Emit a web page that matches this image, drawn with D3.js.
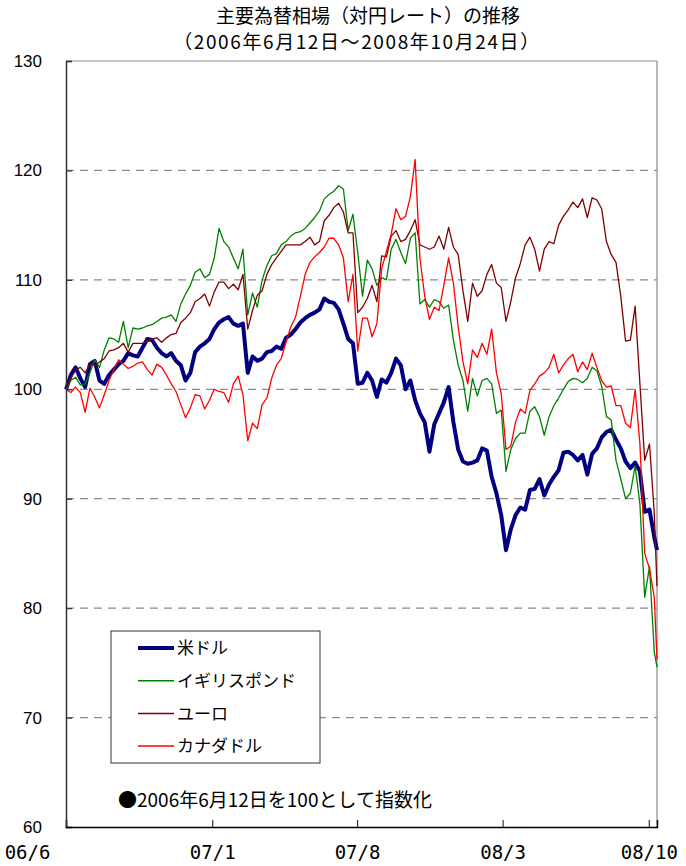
<!DOCTYPE html>
<html>
<head>
<meta charset="utf-8">
<script src="https://cdn.jsdelivr.net/npm/d3@7"></script>
<style>
  body { margin: 0; background: #fff; }
  svg { display: block; }
  .jp { font-family: "Noto Sans CJK JP", sans-serif; }
</style>
</head>
<body>
<svg id="chart" width="686" height="866"></svg>
<script>
// weekly closes, indexed to 2006/6/12 = 100 (last point is 2008/10/24)
const usd = [100, 101.3, 102, 101, 100.2, 102.3, 102.6, 100.8, 100.5, 101.3,
  101.8, 102.3, 102.6, 103.3, 103.1, 103, 103.8, 104.6, 104.5, 103.8,
  103.3, 103, 103.3, 102.6, 102.2, 100.8, 101.5, 103.4, 103.9, 104.2,
  104.6, 105.5, 106.1, 106.4, 106.6, 106, 105.8, 106, 101.5, 103,
  102.6, 102.8, 103.4, 103.5, 103.9, 103.7, 104.7, 105, 105.5, 106.1,
  106.5, 106.8, 107, 107.3, 108.3, 108, 107.9, 107.3, 106, 104.6,
  104.2, 100.5, 100.6, 101.5, 100.8, 99.3, 100.9, 100.6, 101.5, 102.8,
  102.2, 100, 100.8, 99, 97.8, 97, 94.3, 96.8, 97.8, 98.8,
  100.2, 97, 94.5, 93.4, 93.2, 93.3, 93.5, 94.6, 94.4, 92,
  90.5, 88.5, 85.3, 87.2, 88.5, 89.2, 89, 90.8, 90.9, 91.8,
  90.3, 91.3, 92, 92.6, 94.2, 94.3, 94, 93.5, 94, 92.2,
  94.1, 94.6, 95.6, 96.1, 96.3, 95.4, 94.6, 93.4, 92.8, 93.3,
  92.5, 88.8, 89, 86.5, 85.3];

const gbp = [100, 100.8, 101.1, 100.4, 100.5, 101.5, 102.7, 102, 103.6, 104.7,
  104.6, 104.3, 106.2, 103.8, 105.6, 105.5, 105.6, 105.8, 105.9, 106.2,
  106.5, 106.6, 106.8, 106.2, 107.8, 108.7, 109.5, 110.7, 111, 110.2,
  110.5, 112, 114.7, 113.5, 113, 112, 111, 112.8, 106.8, 108.8,
  107.5, 110, 111.3, 112.2, 112.4, 113.2, 113.5, 114, 114.3, 114.4,
  114.7, 115.2, 115.7, 116.3, 117.4, 117.8, 118.1, 118.6, 118.3, 114.5,
  116, 112.5, 108.5, 111.8, 111, 109.5, 110.2, 110, 112.8, 113.7,
  112.5, 111.5, 113.8, 114.3, 107.8, 108.2, 107.5, 108.2, 108, 107.4,
  107.7, 104.5, 102.2, 100.8, 98, 101, 99.4, 100.8, 101, 100.5,
  97.8, 98.1, 92.5, 94.5, 95.5, 96, 96, 98, 98.4, 97.5,
  95.8, 97.5, 98.5, 99.2, 100, 100.7, 101, 100.9, 100.6, 101,
  102, 101.7, 100.3, 97.5, 97.2, 93.5, 91.8, 90, 90.5, 93,
  89.5, 81, 83.8, 76, 74.6];

const eur = [100, 101, 101.8, 102, 101.5, 102.3, 102.2, 102.5, 102.8, 103.5,
  103.6, 103.8, 104.2, 103.4, 104.2, 104.2, 104.2, 104.4, 104.6, 104.7,
  104.3, 104.7, 105, 105.1, 106.1, 106.5, 107, 108, 108.3, 108.7,
  107.6, 108.9, 109.8, 109.8, 109.2, 109.6, 109.1, 110.5, 105.5, 107.2,
  108.6, 109, 110.5, 111.4, 112, 112.6, 113.2, 113.2, 113.2, 113.2,
  113.5, 113.9, 113.2, 113.5, 115.4, 115.9, 116.6, 117, 116.2, 114.3,
  114.3, 107, 107.5, 108.3, 109.5, 108, 112.2, 112.1, 114, 114.5,
  113.5, 113.7, 114.5, 115.5, 113.2, 113, 112.8, 113, 114, 112.8,
  114.8, 113, 112.3, 109, 106.2, 109.7, 108.5, 109, 110.5, 111.4,
  109.7, 109.3, 106.2, 108, 110.2, 111.5, 113.2, 113.9, 112.8, 110.8,
  112.8, 113.5, 113.3, 115, 115.8, 116.4, 117.1, 116.6, 117.4, 115.7,
  117.5, 117.3, 116.5, 113.5, 112.3, 111.6, 108.5, 104.4, 104.5, 107.6,
  100.5, 93.5, 95, 88.7, 82];

const cad = [100, 99.7, 100.2, 99.7, 97.9, 100.1, 99.3, 98.3, 99.5, 100.8,
  101.8, 102.7, 102.3, 101.9, 102.1, 102.4, 102.5, 101.8, 101.3, 102.3,
  102, 101.3, 100.5, 99.8, 98.6, 97.4, 98.3, 99.5, 99.4, 98.2,
  99, 100, 99.8, 99.7, 98.8, 100.5, 101.2, 99.5, 95.3, 96.9,
  96.4, 98.6, 99.2, 101, 102.2, 102.8, 104.3, 105.7, 106.6, 108.5,
  110.5, 111.6, 112.1, 112.5, 113, 113.8, 113.8, 113.2, 112, 108,
  110.5, 103.5, 106.5, 106.5, 104.8, 106, 111, 112.6, 114.2, 116.5,
  115.5, 115.8, 117.6, 121, 112, 108.5, 106.4, 107.5, 107.2, 109.5,
  112, 109.7, 105.7, 102.5, 100.5, 103.6, 102.9, 104.2, 103.2, 105.5,
  101.5, 99.6, 94.5, 94.8, 97, 98.2, 97.8, 99.9, 100.5, 101.2,
  101.5, 102, 103.2, 101.5, 102.2, 102.8, 103.2, 101.6, 102.5, 101.8,
  103.3, 102, 100.8, 100.2, 100.3, 98.5, 98.5, 96.9, 96.5, 100,
  95, 85, 83.6, 81, 75.3];

const seriesNames = ['米ドル', 'イギリスポンド', 'ユーロ', 'カナダドル'];
const seriesColors = ['#000080', '#008000', '#800000', '#ff0000'];
const seriesWidths = [4, 1.3, 1.3, 1.3];
const yTicks = [60, 70, 80, 90, 100, 110, 120, 130];
const xTickDates = ['2006-06-12', '2007-01-12', '2007-08-12', '2008-03-12', '2008-10-12'];

const parse = d3.timeParse('%Y-%m-%d');
const start = parse('2006-06-12');
const end = parse('2008-10-24');
// Mondays from the start date, then the final day
const dates = d3.timeDay.range(start, parse('2008-10-21'), 7).concat([end]);

const svg = d3.select('#chart');
const plotL = 66, plotR = 657, plotT = 61, plotB = 827;

const x = d3.scaleTime().domain([start, end]).range([plotL, plotR]);
const y = d3.scaleLinear().domain([60, 130]).range([plotB, plotT]);

// title (two separate lines)
svg.append('text').attr('class', 'jp')
  .attr('x', 368).attr('y', 23).attr('text-anchor', 'middle')
  .attr('font-size', 19).text('主要為替相場（対円レート）の推移');
svg.append('text').attr('class', 'jp')
  .attr('x', 357).attr('y', 49).attr('text-anchor', 'middle')
  .attr('font-size', 19).attr('letter-spacing', 1.6)
  .text('（2006年6月12日～2008年10月24日）');

// grid
svg.append('g').selectAll('line')
  .data(yTicks.filter(d => d > 60 && d < 130))
  .join('line')
  .attr('x1', plotL).attr('x2', plotR)
  .attr('y1', d => y(d)).attr('y2', d => y(d))
  .attr('stroke', '#8c8c8c').attr('stroke-width', 1.2)
  .attr('stroke-dasharray', '8,6');

// frame: top and right lighter
svg.append('line').attr('x1', plotL).attr('x2', plotR).attr('y1', plotT).attr('y2', plotT)
  .attr('stroke', '#8c8c8c').attr('stroke-width', 1.2);
svg.append('line').attr('x1', plotR).attr('x2', plotR).attr('y1', plotT).attr('y2', plotB)
  .attr('stroke', '#8c8c8c').attr('stroke-width', 1.2);

// lines
const line = d3.line().x((d, i) => x(dates[i])).y(d => y(d));
const allSeries = [usd, gbp, eur, cad];
svg.append('g').selectAll('path')
  .data(allSeries)
  .join('path')
  .attr('d', d => line(d))
  .attr('fill', 'none')
  .attr('stroke', (d, i) => seriesColors[i])
  .attr('stroke-width', (d, i) => seriesWidths[i])
  .attr('stroke-linejoin', 'round');

// y axis
const yAxis = svg.append('g').attr('transform', `translate(${plotL},0)`)
  .call(d3.axisLeft(y).tickValues(yTicks).tickSize(-6).tickPadding(24).tickFormat(d3.format('d')));
yAxis.select('.domain').attr('stroke', '#333').attr('stroke-width', 1.5);
yAxis.selectAll('.tick line').attr('stroke', '#333').attr('stroke-width', 1.2);
yAxis.selectAll('text').attr('font-family', '"Liberation Sans", Arial, sans-serif')
  .attr('font-size', 17).attr('fill', '#000');

// x axis
const xAxis = svg.append('g').attr('transform', `translate(0,${plotB})`)
  .call(d3.axisBottom(x).tickValues(xTickDates.map(parse)).tickSize(-7).tickPadding(19)
    .tickFormat(d3.timeFormat('%y/%-m')));
xAxis.select('.domain').attr('stroke', '#000').attr('stroke-width', 1.5);
xAxis.selectAll('.tick line').attr('stroke', '#333').attr('stroke-width', 1.2);
xAxis.selectAll('text').attr('font-family', '"DejaVu Sans Mono", monospace')
  .attr('font-size', 19).attr('fill', '#000');
xAxis.selectAll('.tick text').filter((d, i) => i === 0).attr('x', -39);

// legend
const lg = svg.append('g');
lg.append('rect').attr('x', 111).attr('y', 631).attr('width', 209).attr('height', 132)
  .attr('fill', '#fff').attr('stroke', '#333').attr('stroke-width', 1);
seriesNames.forEach((name, i) => {
  const yy = 648 + i * 32.7;
  lg.append('line').attr('x1', 138).attr('x2', 174).attr('y1', yy).attr('y2', yy)
    .attr('stroke', seriesColors[i]).attr('stroke-width', seriesWidths[i] === 4 ? 4 : 1.5);
  lg.append('text').attr('class', 'jp').attr('x', 177).attr('y', yy)
    .attr('dy', '0.36em').attr('font-size', 17).text(name);
});

// note
svg.append('text').attr('class', 'jp').attr('x', 118).attr('y', 807)
  .attr('font-size', 19).text('●2006年6月12日を100として指数化');
</script>
</body>
</html>
